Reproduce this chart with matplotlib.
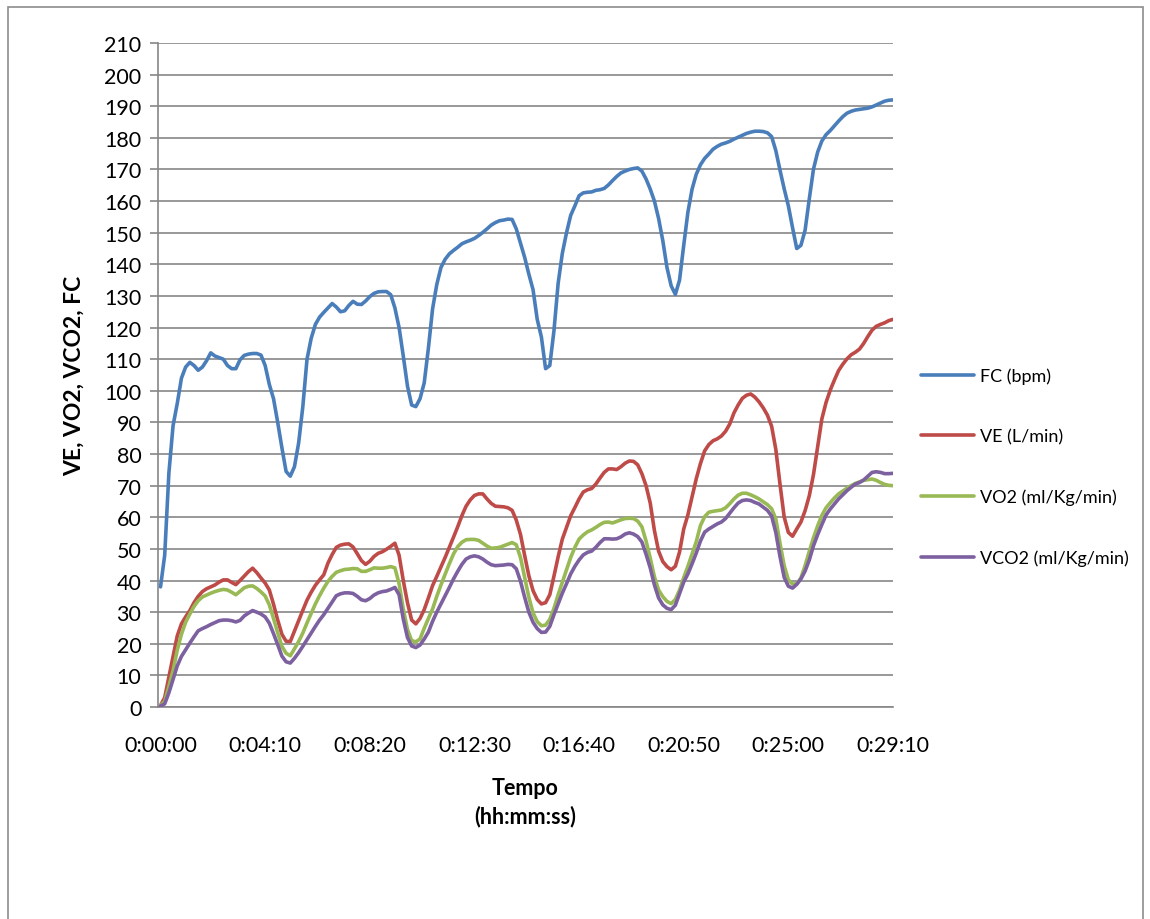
import numpy as np
import matplotlib.pyplot as plt
from matplotlib.patches import Rectangle

# time axis: one sample every 10 s, 0:00:00 .. 0:29:10
time_s = np.arange(0, 1760, 10)

# FC (bpm)
fc = [
    38, 48, 74, 89, 96, 104, 107.5, 109, 108, 106.5,
    107.5, 109.5, 112, 111, 110.5, 110, 108, 107, 107, 109.8,
    111.2, 111.6, 111.8, 111.8, 111.3, 108, 102, 97.5, 90, 82,
    74.5, 73, 76, 83.5, 95, 110, 116.6, 121, 123.3, 124.8,
    126.2, 127.6, 126.5, 125, 125.3, 127, 128.3, 127.4, 127.3, 128.4,
    129.8, 130.8, 131.3, 131.4, 131.4, 130.4, 126.2, 120, 111, 101.5,
    95.5, 95, 97.5, 102.5, 113.5, 125.9, 133.6, 139, 141.6, 143.3,
    144.4, 145.4, 146.5, 147.1, 147.6, 148.2, 149.1, 150.1, 151.2, 152.4,
    153.2, 153.8, 154, 154.3, 154.2, 151.2, 146.7, 142.2, 136.9, 132,
    122.6, 117, 107, 108, 119, 134, 143.5, 150, 155.5, 158.5,
    161.7, 162.6, 162.8, 162.9, 163.4, 163.6, 164, 165.1, 166.5, 167.8,
    168.9, 169.5, 170, 170.3, 170.5, 169.5, 167, 163.8, 160, 154.5,
    147.5, 139, 133.2, 130.5, 135, 146, 156.5, 163.8, 168.5, 171.5,
    173.5, 174.9, 176.4, 177.3, 178, 178.4, 178.9, 179.6, 180.2, 180.8,
    181.4, 181.8, 182.1, 182.1, 182, 181.6, 180.4, 176, 169.8, 163.9,
    158.5, 151.6, 145, 146, 150.8, 160.7, 170.1, 175.5, 179, 181,
    182.3, 183.8, 185.3, 186.7, 187.8, 188.4, 188.8, 189, 189.2, 189.4,
    189.8, 190.4, 191, 191.6, 191.9, 192,
]

# VE (L/min)
ve = [
    0.5, 3, 9.5, 16, 22.5, 26.3, 28.5, 30.5, 33, 35,
    36.5, 37.4, 38, 38.6, 39.5, 40.2, 40.2, 39.4, 38.7, 40,
    41.4, 42.8, 43.9, 42.5, 40.8, 39.2, 37, 32.5, 27.5, 23,
    20.8, 20.7, 24, 27.3, 30.6, 33.8, 36.3, 38.5, 40.2, 41.8,
    45.5, 48.2, 50.5, 51.2, 51.5, 51.6, 50.6, 48.5, 46.3, 45.1,
    46.1, 47.6, 48.6, 49.1, 49.9, 50.8, 51.8, 48, 40, 33,
    27.5, 26.3, 28, 30.8, 34.5, 38.4, 41.3, 44.3, 47.3, 50.5,
    53.7, 57, 60.5, 63.5, 65.5, 66.9, 67.4, 67.4, 65.8, 64.4,
    63.5, 63.4, 63.3, 63, 62.2, 59.1, 54.6, 47.9, 41.5, 36.8,
    34, 32.6, 33, 35.5, 41.4, 47.5, 53.1, 56.8, 60.5, 63.1,
    65.8, 68, 68.7, 69.1, 70.5, 72.4, 74.2, 75.3, 75.3, 75.1,
    76, 77.1, 77.8, 77.7, 76.6, 73.8, 70, 64.5, 55.8, 49.3,
    46, 44.4, 43.4, 44.5, 49, 56.3, 60.8, 66.5, 72.2, 77,
    81, 83, 84.2, 84.8, 85.7, 87.2, 89.5, 93, 95.5, 97.6,
    98.6, 99, 98, 96.5, 94.6, 92.3, 88.8, 81.5, 70.5, 60.1,
    55.2, 54, 56.3, 58.5, 62.1, 66.8, 73.5, 82.3, 91.1, 96.3,
    100.2, 103.4, 106.4, 108.4, 110.1, 111.4, 112.2, 113.2, 115, 117.2,
    119.2, 120.4, 121, 121.5, 122.2, 122.6,
]

# VO2 (ml/Kg/min)
vo2 = [
    0.5, 1.8, 6.5, 11.5, 18, 23, 26.8, 29.4, 31.8, 33.6,
    34.8, 35.4, 36, 36.5, 36.9, 37.2, 37, 36.3, 35.5, 36.6,
    37.7, 38.2, 38.3, 37.5, 36.4, 35.1, 32.3, 28, 23.5, 19.2,
    17, 16.2, 18.4, 20.7, 23.4, 26.6, 29.6, 32.6, 35.2, 37.6,
    39.7, 41.3, 42.6, 43.1, 43.5, 43.6, 43.8, 43.7, 42.9, 42.9,
    43.4, 44, 43.9, 43.9, 44.1, 44.4, 44, 39, 31, 24.5,
    21, 20.6, 21.5, 24.9, 28, 31, 35, 38.6, 42, 45.3,
    48.4, 50.7, 52.1, 52.9, 53, 53, 52.7, 51.8, 50.9, 50.2,
    50.3, 50.5, 51, 51.5, 52, 51.3, 47.3, 41, 34.7, 29.8,
    27, 25.7, 25.9, 27.7, 31.2, 35.5, 39.5, 43.4, 47.3, 50.5,
    53.1, 54.4, 55.4, 56, 56.8, 57.7, 58.4, 58.5, 58.2, 58.7,
    59.2, 59.6, 59.7, 59.6, 58.8, 57, 52.5, 47.1, 41.2, 37,
    34.9, 33.4, 32.7, 34, 37, 40.9, 44.5, 48.4, 52.3, 57.4,
    60.2, 61.6, 61.9, 62.1, 62.3, 63, 64.3, 65.8, 67, 67.6,
    67.6, 67.1, 66.5, 65.8, 64.9, 64, 62.7, 59.5, 51.8, 44.7,
    40.2, 38.9, 38.9, 40.8, 44.7, 49.2, 53.5, 57.3, 60.6, 63,
    64.6, 66.1, 67.4, 68.3, 69.2, 70, 70.7, 71.2, 71.7, 71.9,
    72.1, 71.7, 71, 70.4, 70.1, 70,
]

# VCO2 (ml/Kg/min)
vco2 = [
    0.3, 1, 4.5, 8.7, 13, 16, 18.1, 20.2, 22.2, 24.1,
    24.8, 25.4, 26.1, 26.7, 27.3, 27.5, 27.5, 27.3, 26.9, 27.4,
    28.8, 29.7, 30.5, 30, 29.4, 28.5, 26.5, 23.2, 19.7, 16.1,
    14.3, 13.9, 15.4, 17.2, 19.2, 21.3, 23.4, 25.5, 27.5, 29.2,
    31.2, 33.2, 35.2, 35.8, 36.1, 36.1, 35.9, 35, 33.9, 33.6,
    34.3, 35.4, 36.1, 36.5, 36.7, 37.2, 37.8, 35.5, 27.8, 22,
    19.3, 18.8, 19.6, 21.5, 23.7, 27.1, 30, 32.6, 35.2, 37.8,
    40.5, 42.9, 45.1, 46.8, 47.5, 47.8, 47.5, 46.8, 45.8, 45,
    44.7, 44.8, 44.9, 45.1, 45, 43.7, 39.8, 34.7, 30, 26.8,
    24.8, 23.6, 23.7, 25.5, 29.2, 32.6, 36, 39, 42.1, 44.5,
    46.5, 48.1, 48.9, 49.3, 50.5, 52, 53.2, 53.2, 53.1, 53.2,
    53.8, 54.7, 55.1, 54.7, 53.9, 52.2, 48.3, 44, 38.6, 34.5,
    32.3, 31.2, 30.8, 32.2, 35.8, 39.5, 42.1, 45.3, 48.7, 52.5,
    55.3, 56.3, 57.1, 57.9, 58.5, 59.6, 61.3, 63, 64.5, 65.3,
    65.5, 65.3, 64.7, 64.2, 63.2, 62.2, 60.4, 55.2, 47.6, 41,
    38.2, 37.6, 38.8, 40.5, 43, 46.5, 51, 54.5, 57.7, 60.7,
    62.6, 64.2, 65.8, 67.1, 68.4, 69.5, 70.5, 71, 71.8, 73,
    74.2, 74.4, 74.2, 73.8, 73.8, 73.9,
]

series = [
    ("FC (bpm)", fc, "#4A7EBB"),
    ("VE (L/min)", ve, "#BE4B48"),
    ("VO2 (ml/Kg/min)", vo2, "#98B954"),
    ("VCO2 (ml/Kg/min)", vco2, "#7D60A0"),
]


def hms(sec):
    sec = int(sec)
    return f"{sec // 3600}:{(sec % 3600) // 60:02d}:{sec % 60:02d}"


plt.rcParams['font.family'] = ['Lato', 'DejaVu Sans']
grid_col = "#868686"

fig = plt.figure(figsize=(11.5, 9.2), dpi=100)
ax = fig.add_axes([158 / 1150, 1 - 708 / 920, (893 - 158) / 1150, (708 - 44) / 920])

# chart area border (left, top, right)
fig.add_artist(Rectangle((8 / 1150, -0.1), (1143 - 8) / 1150, 1.1 - 8 / 920,
                         transform=fig.transFigure, fill=False,
                         edgecolor="#8c8c8c", linewidth=1.2))

for label, vals, col in series:
    ax.plot(time_s, vals, color=col, linewidth=2.6, label=label,
            solid_joinstyle='round', solid_capstyle='round', zorder=3)

ax.set_xlim(-6, 1750)
ax.set_ylim(0, 210)
ax.set_yticks(np.arange(0, 211, 10))
ax.set_xticks(time_s[::25])
ax.set_xticklabels([hms(t) for t in time_s[::25]])

ax.grid(axis='y', color=grid_col, linewidth=1.2)
ax.set_axisbelow(True)
for side in ['top', 'right']:
    ax.spines[side].set_visible(False)
for side in ['left', 'bottom']:
    ax.spines[side].set_color(grid_col)
    ax.spines[side].set_linewidth(1.2)

ax.tick_params(axis='y', length=6, width=1.2, color=grid_col, labelsize=15.5, pad=6)
ax.tick_params(axis='x', length=0, labelsize=15.5, pad=20)

ax.set_ylabel("VE, VO2, VCO2, FC", fontsize=16.5, fontweight='bold', labelpad=14)
ax.set_xlabel("Tempo\n(hh:mm:ss)", fontsize=15.5, fontweight='bold',
              labelpad=16, linespacing=1.4)

ax.legend(loc='center left', bbox_to_anchor=(905 / 1150, 1 - 468 / 920),
          bbox_transform=fig.transFigure, frameon=False, fontsize=13,
          handlelength=2.9, handletextpad=0.35, labelspacing=2.45)

fig.savefig("out.png", dpi=100)
